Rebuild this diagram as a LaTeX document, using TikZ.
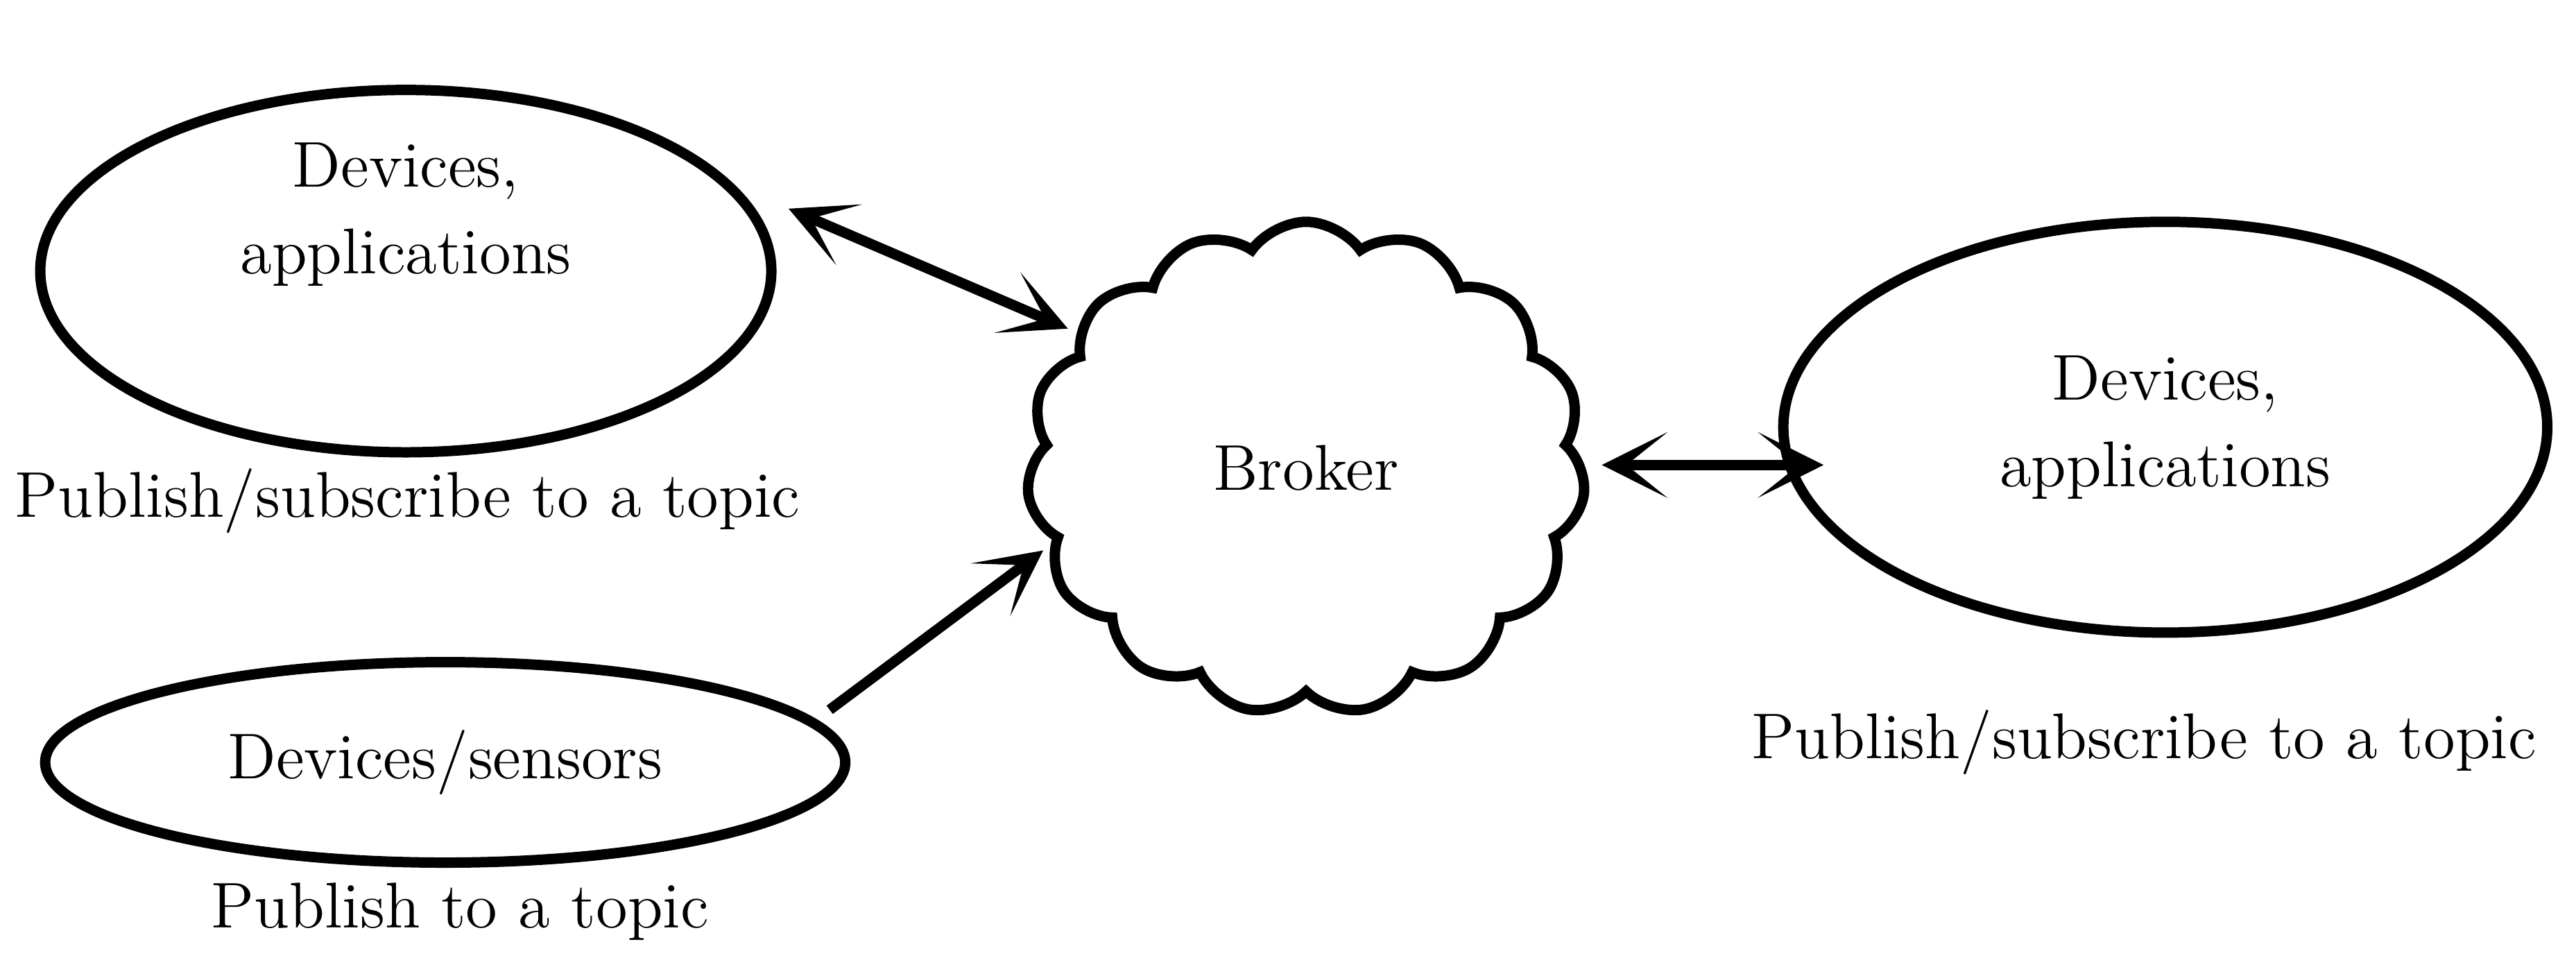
\documentclass[tikz,border=0pt]{standalone}
\usetikzlibrary{shapes.symbols,shapes.geometric,arrows.meta}
\tikzset{
  blob/.style={ellipse, draw, line width=1.8pt, align=center, font=\fontsize{11.2}{15}\selectfont},
  caption/.style={font=\fontsize{11.2}{15}\selectfont},
  link/.style={line width=1.8pt, -{Stealth[length=4mm,width=4mm,inset=2.5mm]}},
  dlink/.style={line width=1.8pt, {Stealth[length=4mm,width=4mm,inset=2.5mm]}-{Stealth[length=4mm,width=4mm,inset=2.5mm]}}
}
\begin{document}
\begin{tikzpicture}
\useasboundingbox (0,0) rectangle (15.68,5.94);

\node[blob, minimum width=4.45cm, minimum height=2.0cm, inner sep=0pt](apps1) at (2.47,4.29) {Devices,\\applications\\[0.6em]};
\node[blob, minimum width=4.87cm, minimum height=1.22cm, inner sep=0pt](sens) at (2.71,1.30) {Devices/sensors};
\node[blob, minimum width=4.65cm, minimum height=2.5cm, inner sep=0pt](apps2) at (13.18,3.34) {Devices,\\applications};
\node[cloud, draw, line width=1.8pt, cloud puffs=15, cloud puff arc=110, aspect=1,
      minimum width=3.4cm, minimum height=3.0cm, font=\fontsize{11.2}{15}\selectfont](broker) at (7.95,3.09) {Broker};

\node[caption](cap1) at (2.48,2.89) {Publish/subscribe to a topic};
\node[caption](cap2) at (2.80,0.39) {Publish to a topic};
\node[caption](cap3) at (13.05,1.42) {Publish/subscribe to a topic};

% connector end points
\coordinate (a1) at (4.80,4.67);
\coordinate (b1) at (6.50,3.94);
\coordinate (a2) at (5.05,1.62);
\coordinate (b2) at (6.35,2.59);
\coordinate (a3) at (9.75,3.11);
\coordinate (b3) at (11.10,3.11);

\draw[dlink](a1) -- (b1);
\draw[link](a2) -- (b2);
\draw[dlink](a3) -- (b3);

\end{tikzpicture}
\end{document}
